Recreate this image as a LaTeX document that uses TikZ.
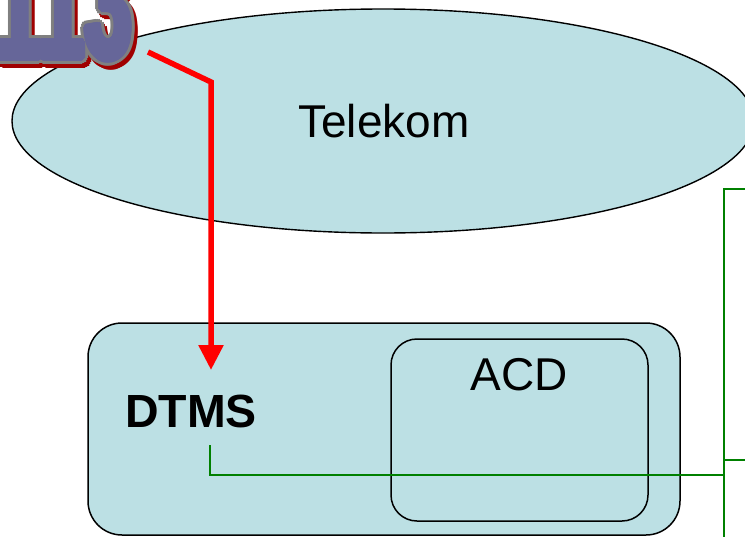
\documentclass[tikz,border=0pt]{standalone}
\usepackage{fontspec}
\setmainfont{Liberation Sans}
\usetikzlibrary{arrows.meta,shapes.geometric}
\definecolor{boxfill}{RGB}{188,224,228}
\definecolor{wablue}{RGB}{102,102,153}
\definecolor{wagray}{RGB}{128,128,128}
\definecolor{wared}{RGB}{160,0,0}
\definecolor{linkgreen}{RGB}{0,128,0}
\newcommand\numtext{\resizebox{138pt}{116pt}{\bfseries 113}}
\tikzset{
  wa/.style={inner sep=0pt, anchor=base west},
  cloud/.style={ellipse, draw=black, line width=1.4pt, fill=boxfill,
    minimum width=742pt, minimum height=224pt, inner sep=0pt},
  site/.style={draw=black, line width=1.5pt, fill=boxfill, rounded corners=34pt},
  sub/.style={draw=black, line width=1.5pt, rounded corners=26pt},
  redlink/.style={draw=red, line width=5.5pt, line join=miter,
    -{Triangle[width=24pt,length=25pt]}},
  greenlink/.style={draw=linkgreen, line width=1.6pt},
  lbl/.style={font=\fontsize{46}{50}\selectfont, inner sep=0pt},
}
\begin{document}
\begin{tikzpicture}[x=1pt,y=-1pt]
\useasboundingbox (0,0) rectangle (745,536);
\clip (0,0) rectangle (745,536);
% Telekom cloud
\node[cloud] (tel) at (383,121) {};
\node[lbl, anchor=base] (teltxt) at (384,137) {Telekom};
% site box
\draw[site] (88,323) rectangle (680,535);
\draw[sub] (391,339) rectangle (648,521);
\node[lbl, anchor=base] (acd) at (519,390) {ACD};
\node[lbl, anchor=base, font=\fontsize{46.5}{50}\selectfont\bfseries] (dtms) at (191,427) {DTMS};
% word art (cut off at the top edge)
\foreach \a in {0,22.5,...,359} \node[wa, text=wared] at ([shift={(\a:6)}] -3,62) {\numtext};
\foreach \a in {0,22.5,...,359} \node[wa, text=wagray] at ([shift={(\a:6)}] -6,58) {\numtext};
\foreach \a in {0,30,...,359} \node[wa, text=wablue] at ([shift={(\a:3)}] -6,58) {\numtext};
\node[wa, text=wablue] (num) at (-6,58) {\numtext};
% connectors
\coordinate (rs) at (148,52);
\coordinate (rb) at (211,82);
\coordinate (rt) at (211,370);
\draw[redlink] (rs) -- (rb) -- (rt);
\coordinate (gs) at (210,445);
\coordinate (gc) at (210,475);
\coordinate (bus) at (724,475);
\coordinate (bustop) at (724,189);
\coordinate (busbot) at (724,540);
\coordinate (e1) at (750,189);
\coordinate (b2) at (724,460);
\coordinate (e2) at (750,460);
\draw[greenlink] (gs) -- (gc) -- (bus);
\draw[greenlink] (busbot) -- (bustop) -- (e1);
\draw[greenlink] (b2) -- (e2);
\end{tikzpicture}
\end{document}
